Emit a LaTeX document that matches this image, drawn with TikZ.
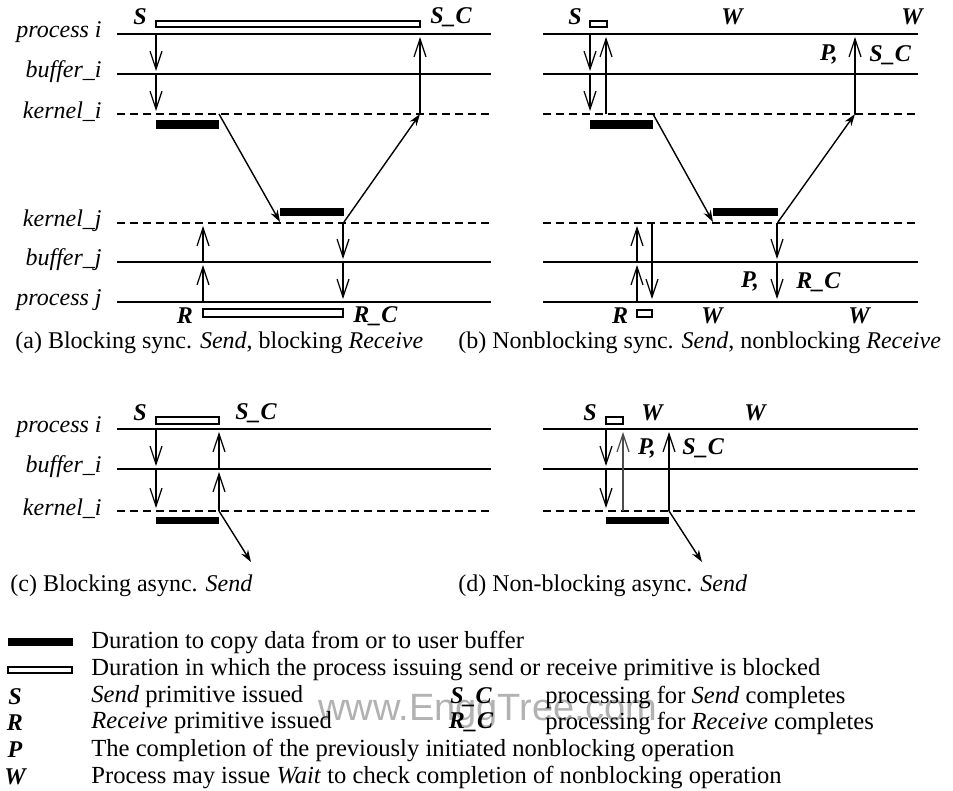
\documentclass[tikz,border=0pt]{standalone}
\usepackage{fontspec}
\setmainfont{Liberation Serif}
\newfontfamily\wmfont{Liberation Sans}
\usetikzlibrary{arrows.meta}
\begin{document}
\begin{tikzpicture}[x=0.5pt,y=-0.5pt,
  tl/.style={line width=0.9pt},
  kl/.style={line width=0.9pt,dash pattern=on 4pt off 2.5pt},
  va/.style={line width=0.8pt,-{Straight Barb[length=9pt,width=6pt,line width=0.6pt]},shorten >=1.5pt},
  vathin/.style={va,line width=0.6pt,draw=black!70},
  da/.style={line width=0.7pt,-{Stealth[length=6pt,width=4pt]}},
  lbl/.style={font=\fontsize{12}{14}\selectfont\itshape,anchor=east,inner sep=0pt},
  ev/.style={font=\fontsize{12}{14}\selectfont\bfseries\itshape,inner sep=0pt},
  evw/.style={ev,anchor=west},
  captext/.style={font=\fontsize{12}{14}\selectfont,anchor=west,inner sep=0pt},
  leg/.style={font=\fontsize{12.3}{14}\selectfont,anchor=west,inner sep=0pt},
  copybar/.style={fill=black},
  blockbar/.style={draw=black,line width=0.7pt,fill=white},
]
\useasboundingbox (0,0) rectangle (953,791);
\fill[white] (0,0) rectangle (953,791);

%================ panel (a) =================
\node[lbl] (aPi) at (102,32) {process i};
\node[lbl] (aBi) at (102,72) {buffer\_i};
\node[lbl] (aKi) at (102,112) {kernel\_i};
\node[lbl] (aKj) at (102,221) {kernel\_j};
\node[lbl] (aBj) at (102,260) {buffer\_j};
\node[lbl] (aPj) at (102,300) {process j};
\draw[tl] (117,34) -- (491,34);
\draw[tl] (117,74) -- (491,74);
\draw[kl] (117,114) -- (491,114);
\draw[kl] (117,223) -- (491,223);
\draw[tl] (117,262) -- (491,262);
\draw[tl] (117,302) -- (491,302);

\draw[blockbar] (156,21) rectangle (420,27);
\node[ev] (aS) at (140,17) {S};
\node[evw] (aSC) at (430,17) {S\_C};
\coordinate (a1) at (156,34);
\coordinate (a2) at (156,74);
\coordinate (a3) at (156,114);
\draw[va] (a1) -- (a2);
\draw[va] (a2) -- (a3);
\fill[copybar] (156,120) rectangle (219,129);
\coordinate (a6) at (219,114);
\coordinate (a7) at (280,222);
\draw[da] (a6) -- (a7);
\fill[copybar] (280,208) rectangle (344,216);
\coordinate (a8) at (344,222);
\coordinate (a4) at (420,114);
\coordinate (a5) at (420,34);
\draw[da] (a8) -- (a4);
\draw[va] (a4) -- (a5);
\coordinate (a9) at (203,302);
\coordinate (a10) at (203,262);
\coordinate (a11) at (203,223);
\draw[va] (a9) -- (a10);
\draw[va] (a10) -- (a11);
\coordinate (a12) at (343,223);
\coordinate (a13) at (343,262);
\coordinate (a14) at (343,302);
\draw[va] (a12) -- (a13);
\draw[va] (a13) -- (a14);
\draw[blockbar] (203,309) rectangle (343,317);
\node[ev] (aR) at (185,316) {R};
\node[evw] (aRC) at (353,316) {R\_C};
\node[captext] (capA) at (15,343) {(a) Blocking sync. \textit{Send}, blocking \textit{Receive}};

%================ panel (b) =================
\draw[tl] (543,34) -- (918,34);
\draw[tl] (543,74) -- (918,74);
\draw[kl] (543,114) -- (918,114);
\draw[kl] (543,223) -- (918,223);
\draw[tl] (543,262) -- (918,262);
\draw[tl] (543,302) -- (918,302);

\draw[blockbar] (590,21) rectangle (607,27);
\node[ev] (bS) at (575,17) {S};
\node[ev] (bW1) at (732,17) {W};
\node[ev] (bW2) at (912,17) {W};
\coordinate (b1) at (590,34);
\coordinate (b2) at (590,74);
\coordinate (b3) at (590,114);
\draw[va] (b1) -- (b2);
\draw[va] (b2) -- (b3);
\coordinate (b4) at (606,114);
\coordinate (b5) at (606,34);
\draw[va] (b4) -- (b5);
\fill[copybar] (590,120) rectangle (653,129);
\coordinate (b6) at (653,114);
\coordinate (b7) at (713,222);
\draw[da] (b6) -- (b7);
\fill[copybar] (713,208) rectangle (778,216);
\coordinate (b8) at (778,222);
\coordinate (b9) at (855,114);
\coordinate (b10) at (855,34);
\draw[da] (b8) -- (b9);
\draw[va] (b9) -- (b10);
\node[ev] (bP1) at (829,55) {P,};
\node[evw] (bSC) at (869,55) {S\_C};
\coordinate (b11) at (637,302);
\coordinate (b12) at (637,262);
\coordinate (b13) at (637,223);
\draw[va] (b11) -- (b12);
\draw[va] (b12) -- (b13);
\coordinate (b14) at (652,223);
\coordinate (b15) at (652,302);
\draw[va] (b14) -- (b15);
\coordinate (b16) at (777,223);
\coordinate (b17) at (777,262);
\coordinate (b18) at (777,302);
\draw[va] (b16) -- (b17);
\draw[va] (b17) -- (b18);
\draw[blockbar] (637,310) rectangle (652,317);
\node[ev] (bR) at (620,316) {R};
\node[ev] (bW3) at (712,316) {W};
\node[ev] (bW4) at (859,316) {W};
\node[ev] (bP2) at (750,282) {P,};
\node[evw] (bRC) at (796,282) {R\_C};
\node[captext] (capB) at (458,343) {(b) Nonblocking sync. \textit{Send}, nonblocking \textit{Receive}};

%================ panel (c) =================
\node[lbl] (cPi) at (102,427) {process i};
\node[lbl] (cBi) at (102,467) {buffer\_i};
\node[lbl] (cKi) at (102,509) {kernel\_i};
\draw[tl] (117,429) -- (491,429);
\draw[tl] (117,469) -- (491,469);
\draw[kl] (117,511) -- (491,511);
\draw[blockbar] (156,417) rectangle (219,424);
\node[ev] (cS) at (140,413) {S};
\node[evw] (cSC) at (235,413) {S\_C};
\coordinate (c1) at (156,429);
\coordinate (c2) at (156,469);
\coordinate (c3) at (156,511);
\draw[va] (c1) -- (c2);
\draw[va] (c2) -- (c3);
\coordinate (c4) at (219,511);
\coordinate (c5) at (219,469);
\coordinate (c6) at (219,429);
\draw[va] (c4) -- (c5);
\draw[va] (c5) -- (c6);
\fill[copybar] (156,517) rectangle (219,524);
\coordinate (c7) at (251,562);
\draw[da] (c4) -- (c7);
\node[captext] (capC) at (10,586) {(c) Blocking async. \textit{Send}};

%================ panel (d) =================
\draw[tl] (543,429) -- (918,429);
\draw[tl] (543,469) -- (918,469);
\draw[kl] (543,511) -- (918,511);
\draw[blockbar] (606,417) rectangle (623,424);
\node[ev] (dS) at (590,413) {S};
\node[ev] (dW1) at (652,413) {W};
\node[ev] (dW2) at (755,413) {W};
\coordinate (d1) at (606,429);
\coordinate (d2) at (606,469);
\coordinate (d3) at (606,511);
\draw[va] (d1) -- (d2);
\draw[va] (d2) -- (d3);
\coordinate (d4) at (623,511);
\coordinate (d5) at (623,429);
\draw[vathin] (d4) -- (d5);
\node[ev] (dP) at (647,448) {P,};
\coordinate (d6) at (669,511);
\coordinate (d7) at (669,429);
\draw[va] (d6) -- (d7);
\node[evw] (dSC) at (682,448) {S\_C};
\fill[copybar] (606,517) rectangle (669,524);
\coordinate (d8) at (702,562);
\draw[da] (d6) -- (d8);
\node[captext] (capD) at (458,586) {(d) Non-blocking async. \textit{Send}};

%================ legend =================
\node[font=\wmfont\fontsize{19}{22}\selectfont,text=black!30,anchor=west,inner sep=0pt] (wm) at (318,711) {www.EnggTree.com};
\fill[copybar] (8,638) rectangle (73,646);
\draw[blockbar] (8,667) rectangle (72,673);
\node[leg] (l1) at (91,642) {Duration to copy data from or to user buffer};
\node[leg] (l2) at (91,670) {Duration in which the process issuing send or receive primitive is blocked};
\node[ev] (lS) at (15,697) {S};
\node[ev] (lR) at (15,723) {R};
\node[ev] (lP) at (15,750) {P};
\node[ev] (lW) at (15,777) {W};
\node[leg] (l3) at (91,697) {\textit{Send} primitive issued};
\node[leg] (l4) at (91,723) {\textit{Receive} primitive issued};
\node[leg] (l5) at (91,750) {The completion of the previously initiated nonblocking operation};
\node[leg] (l6) at (91,777) {Process may issue \textit{Wait} to check completion of nonblocking operation};
\node[ev] (lSC) at (471,697) {S\_C};
\node[ev] (lRC) at (471,722) {R\_C};
\node[leg] (l7) at (545,697) {processing for \textit{Send} completes};
\node[leg] (l8) at (545,723) {processing for \textit{Receive} completes};
\end{tikzpicture}
\end{document}
